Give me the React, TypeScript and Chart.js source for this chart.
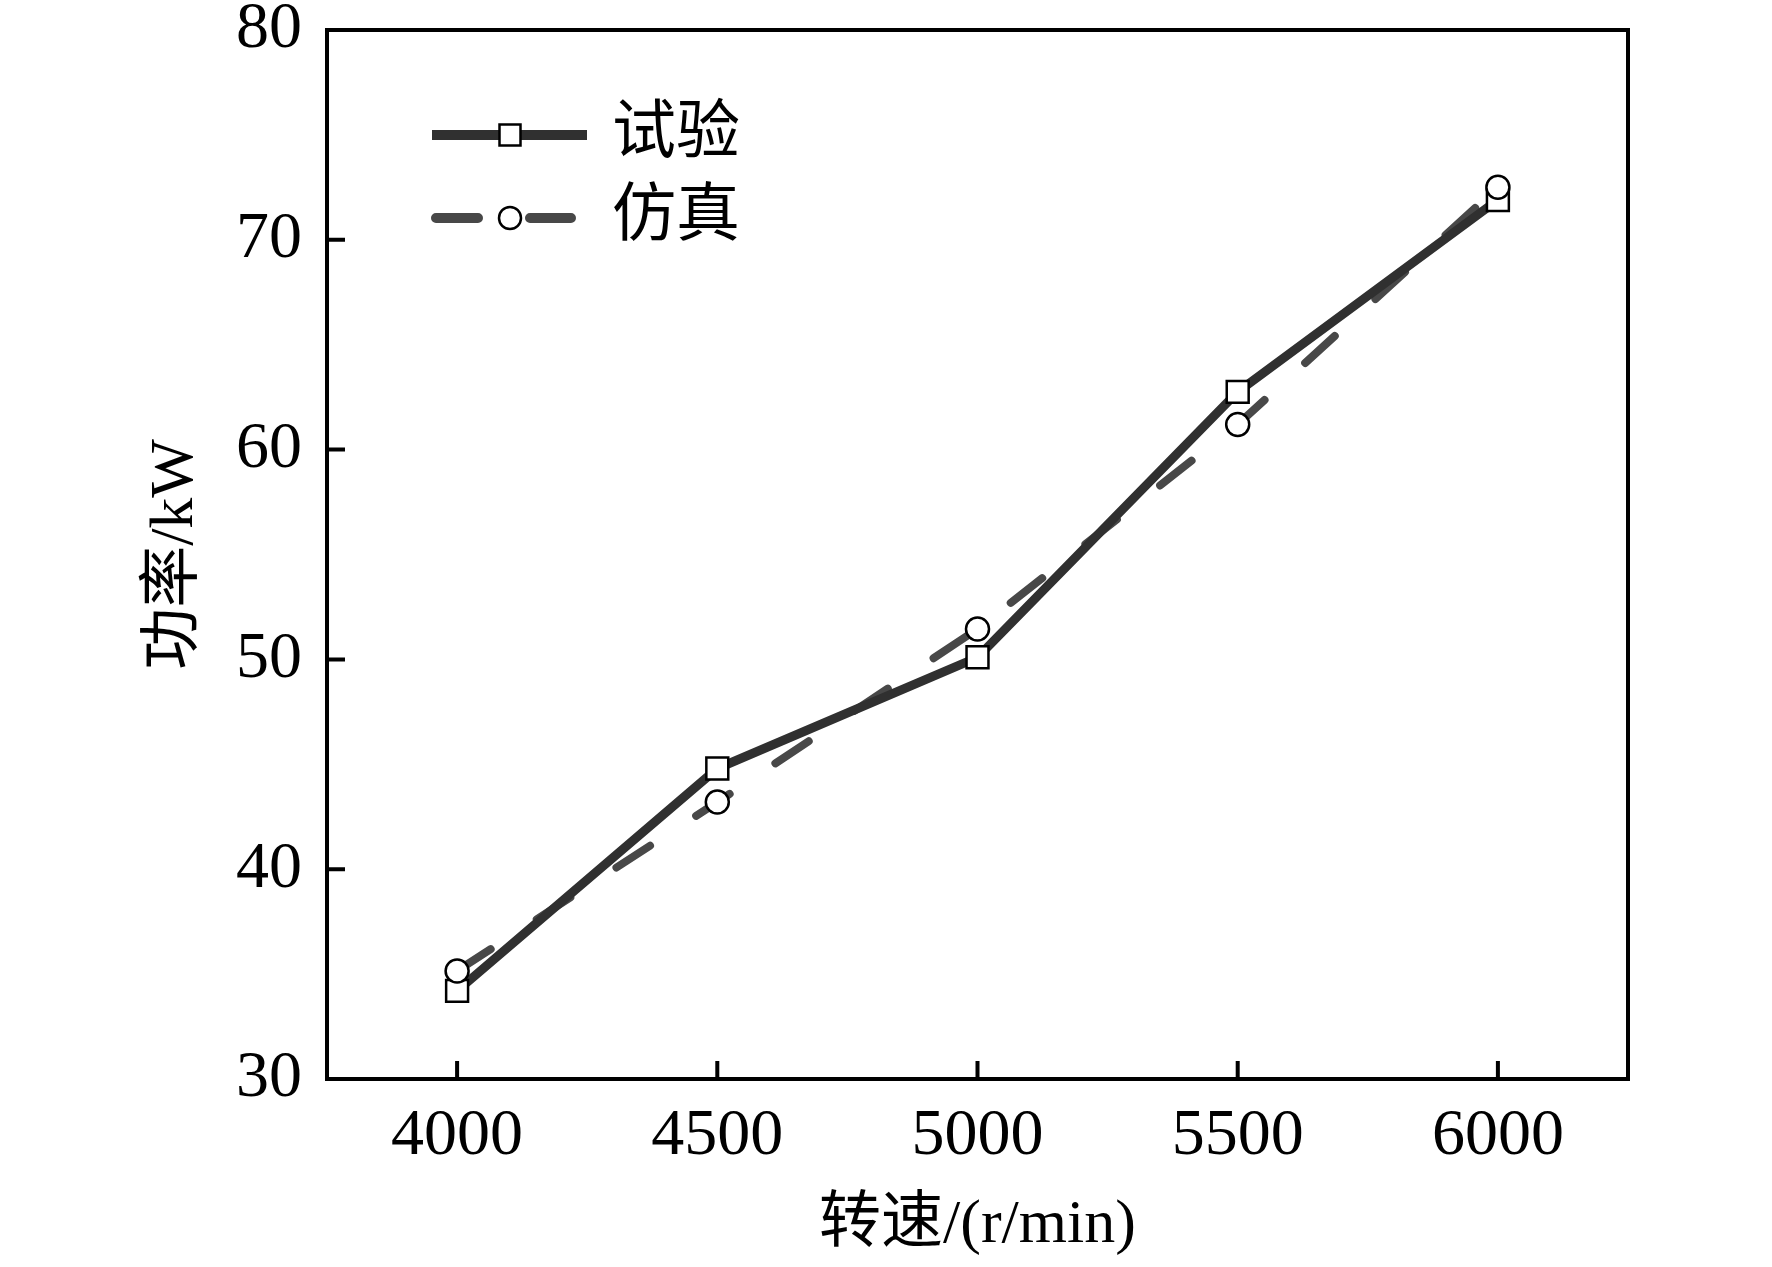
import React, { useEffect, useRef } from 'react';
import { Chart, registerables } from 'chart.js';

Chart.register(...registerables);

// rotational speed (r/min) and power (kW)
const speeds = [4000, 4500, 5000, 5500, 6000];
const testPower = [34.2, 44.8, 50.1, 62.75, 71.9];
const simPower = [35.15, 43.2, 51.45, 61.2, 72.5];

const xTicks = [4000, 4500, 5000, 5500, 6000];
const yTicks = [30, 40, 50, 60, 70, 80];
const seriesNames = ['试验', '仿真'];

const SERIF = '"Liberation Serif", "Times New Roman", serif';
const TITLE_FONT = '"Liberation Serif", "Noto Sans CJK SC", serif';
const SOLID = '#303030';
const DASHED = '#484848';

const toPoints = (ys: number[]) => speeds.map((x, i) => ({ x, y: ys[i] }));

// frame, inward ticks and the legend are painted here
const framePlugin = {
  id: 'frame',
  afterDraw(chart: any) {
    const { ctx, chartArea: a, scales } = chart;
    ctx.save();
    ctx.strokeStyle = '#000';
    ctx.lineWidth = 4;
    ctx.strokeRect(a.left, a.top, a.right - a.left, a.bottom - a.top);

    ctx.lineWidth = 4;
    ctx.beginPath();
    scales.x.ticks.forEach((t: any) => {
      const px = scales.x.getPixelForValue(t.value);
      ctx.moveTo(px, a.bottom);
      ctx.lineTo(px, a.bottom - 18);
    });
    scales.y.ticks.forEach((t: any) => {
      const py = scales.y.getPixelForValue(t.value);
      if (t.value === yTicks[0] || t.value === yTicks[yTicks.length - 1]) return;
      ctx.moveTo(a.left, py);
      ctx.lineTo(a.left + 18, py);
    });
    ctx.stroke();

    // legend
    const lx0 = 432;
    const lx1 = 587;
    const mx = 510;
    const rows = [135, 218];

    ctx.lineCap = 'butt';
    ctx.strokeStyle = SOLID;
    ctx.lineWidth = 10;
    ctx.beginPath();
    ctx.moveTo(lx0, rows[0]);
    ctx.lineTo(lx1, rows[0]);
    ctx.stroke();
    ctx.fillStyle = '#fff';
    ctx.strokeStyle = '#000';
    ctx.lineWidth = 2.5;
    ctx.fillRect(mx - 10.5, rows[0] - 10.5, 21, 21);
    ctx.strokeRect(mx - 10.5, rows[0] - 10.5, 21, 21);

    ctx.lineCap = 'round';
    ctx.strokeStyle = DASHED;
    ctx.lineWidth = 10;
    ctx.beginPath();
    ctx.moveTo(lx0 + 4, rows[1]);
    ctx.lineTo(478, rows[1]);
    ctx.moveTo(530, rows[1]);
    ctx.lineTo(571, rows[1]);
    ctx.stroke();
    ctx.fillStyle = '#fff';
    ctx.strokeStyle = '#000';
    ctx.lineWidth = 2.5;
    ctx.beginPath();
    ctx.arc(mx, rows[1], 11, 0, Math.PI * 2);
    ctx.fill();
    ctx.stroke();

    ctx.fillStyle = '#000';
    ctx.font = `64px ${TITLE_FONT}`;
    ctx.textAlign = 'left';
    ctx.textBaseline = 'middle';
    ctx.fillText(seriesNames[0], 612, rows[0]);
    ctx.fillText(seriesNames[1], 612, rows[1]);
    ctx.restore();
  },
};

const App: React.FC = () => {
  const canvasRef = useRef<HTMLCanvasElement | null>(null);
  const chartRef = useRef<Chart | null>(null);

  useEffect(() => {
    const canvas = canvasRef.current;
    if (!canvas) return;
    if (chartRef.current) chartRef.current.destroy();

    chartRef.current = new Chart(canvas, {
      type: 'line',
      data: {
        datasets: [
          {
            label: seriesNames[1] + ' line',
            data: toPoints(simPower),
            borderColor: DASHED,
            borderWidth: 8,
            borderDash: [40, 55],
            borderCapStyle: 'round',
            pointRadius: 0,
            fill: false,
            order: 3,
          },
          {
            label: seriesNames[0] + ' line',
            data: toPoints(testPower),
            borderColor: SOLID,
            borderWidth: 9,
            borderJoinStyle: 'round',
            pointRadius: 0,
            fill: false,
            order: 2,
          },
          {
            label: seriesNames[0],
            data: toPoints(testPower),
            showLine: false,
            pointStyle: 'rect',
            pointRadius: 15.5,
            pointBackgroundColor: '#fff',
            pointBorderColor: '#000',
            pointBorderWidth: 2.5,
            order: 1,
          },
          {
            label: seriesNames[1],
            data: toPoints(simPower),
            showLine: false,
            pointStyle: 'circle',
            pointRadius: 11.5,
            pointBackgroundColor: '#fff',
            pointBorderColor: '#000',
            pointBorderWidth: 2.5,
            order: 0,
          },
        ],
      },
      options: {
        animation: false,
        responsive: true,
        maintainAspectRatio: false,
        layout: { padding: { top: 30, right: 144, left: 0, bottom: 0 } },
        plugins: { legend: { display: false }, tooltip: { enabled: false } },
        scales: {
          x: {
            type: 'linear',
            min: 3750,
            max: 6250,
            afterBuildTicks: (s: any) => {
              s.ticks = xTicks.map((value) => ({ value }));
            },
            afterFit: (s: any) => {
              s.height = 188;
              s.paddingLeft = 0;
              s.paddingRight = 0;
            },
            grid: { display: false, drawTicks: false },
            border: { display: false },
            ticks: {
              color: '#000',
              padding: 18,
              maxRotation: 0,
              font: { family: SERIF, size: 66 },
              callback: (v: any) => String(v),
            },
            title: {
              display: true,
              text: '转速/(r/min)',
              color: '#000',
              padding: { top: 0, bottom: 4 },
              font: { family: TITLE_FONT, size: 62 },
            },
          },
          y: {
            type: 'linear',
            min: 30,
            max: 80,
            afterBuildTicks: (s: any) => {
              s.ticks = yTicks.map((value) => ({ value }));
            },
            afterFit: (s: any) => {
              s.width = 327;
              s.paddingTop = 0;
              s.paddingBottom = 0;
            },
            grid: { display: false, drawTicks: false },
            border: { display: false },
            ticks: {
              color: '#000',
              padding: 25,
              font: { family: SERIF, size: 66 },
              callback: (v: any) => String(v),
            },
            title: {
              display: true,
              text: '功率/kW',
              color: '#000',
              padding: { top: 139, bottom: 0 },
              font: { family: TITLE_FONT, size: 62 },
            },
          },
        },
      },
      plugins: [framePlugin],
    });

    return () => {
      if (chartRef.current) {
        chartRef.current.destroy();
        chartRef.current = null;
      }
    };
  }, []);

  return (
    <div
      style={{
        position: 'fixed',
        left: 0,
        top: 0,
        width: 1772,
        height: 1267,
        background: '#fff',
      }}
    >
      <canvas ref={canvasRef} />
    </div>
  );
};

export default App;
